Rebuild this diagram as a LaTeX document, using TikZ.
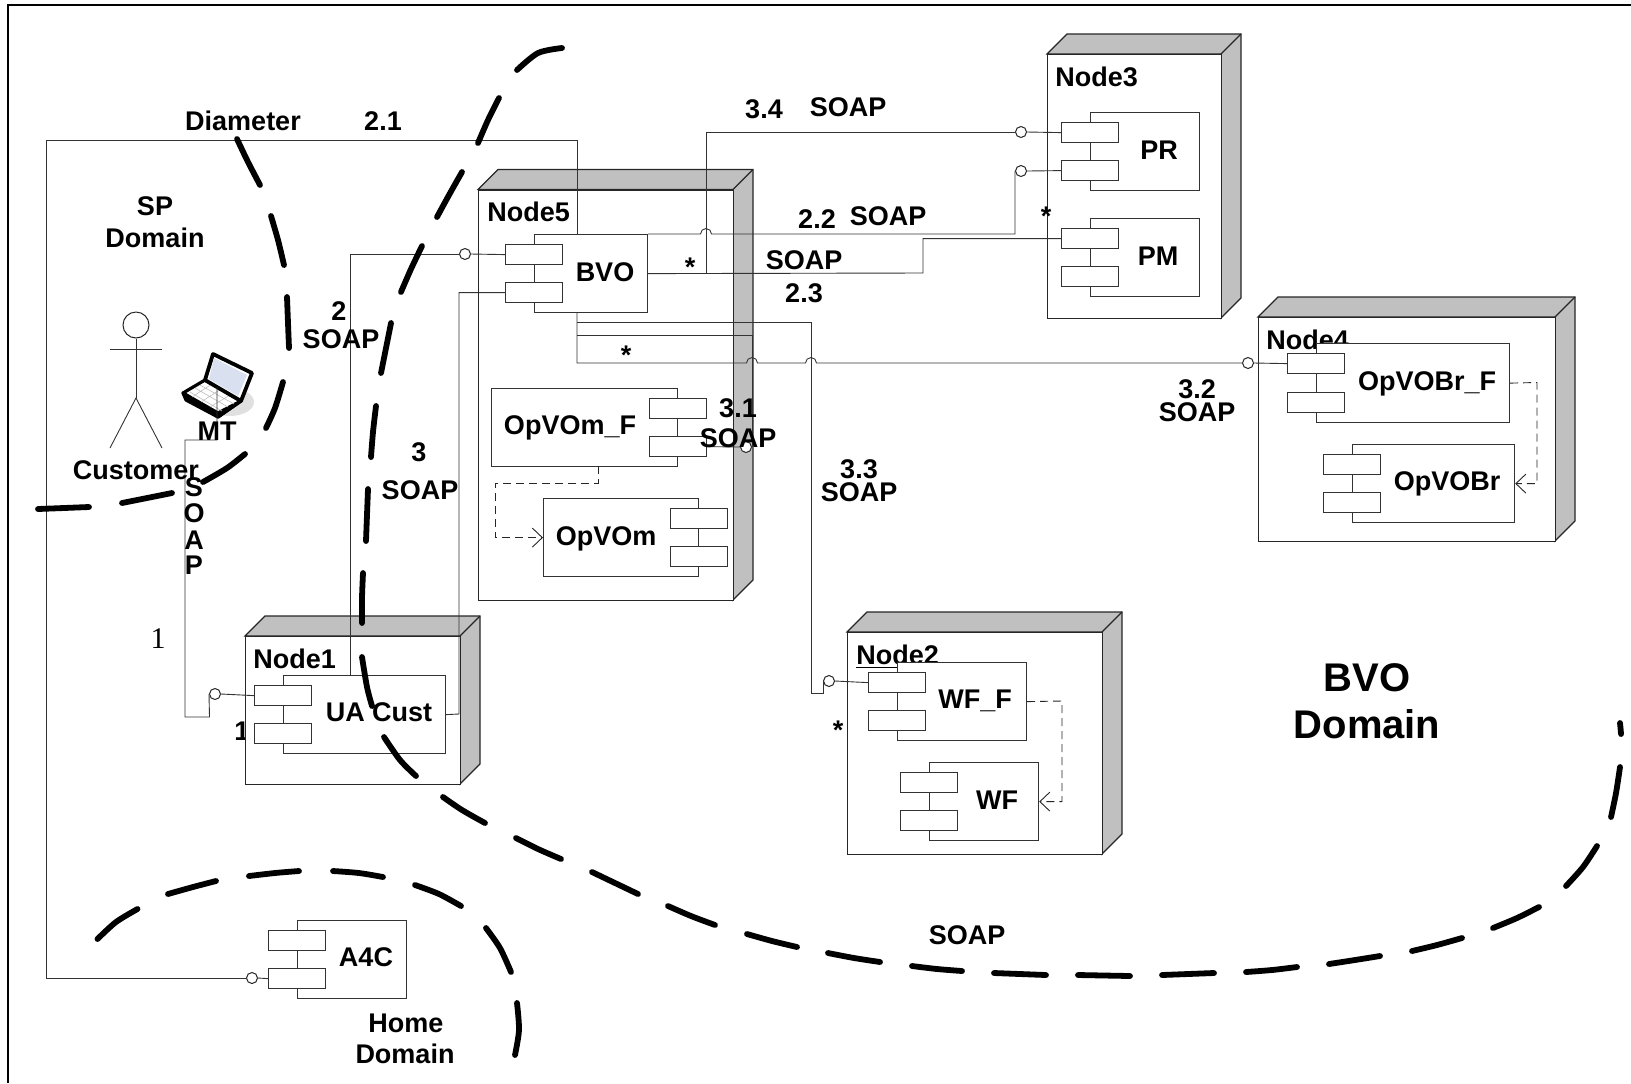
\documentclass[tikz,border=0pt]{standalone}
\usepackage{fontspec}
\setmainfont{Liberation Sans}
\newfontfamily\timesfont{Liberation Serif}
\usepackage{tikz}
\usetikzlibrary{arrows.meta}
\definecolor{depgray}{HTML}{C0C0C0}
\definecolor{lapscreen}{HTML}{D9E1F0}
\tikzset{
  lbl/.style={font=\bfseries\fontsize{13.5}{15}\selectfont,text height=9.7pt,text depth=0pt,inner sep=0pt},
  biglbl/.style={font=\bfseries\fontsize{20}{22}\selectfont,text height=14.3pt,text depth=0pt,inner sep=0pt},
  deptitle/.style={font=\bfseries\fontsize{13.5}{15}\selectfont,inner sep=0pt,anchor=base west},
  depbox/.style={draw=black!85,fill=white,line width=0.6pt,inner sep=0pt,anchor=north west},
  depside/.style={draw=black!85,fill=depgray,line width=0.6pt},
  compbody/.style={draw=black!80,fill=white,line width=0.6pt,inner sep=0pt,anchor=north west},
  comptab/.style={draw=black!80,fill=white,line width=0.6pt,inner sep=0pt,minimum width=28.5pt,minimum height=10pt},
  lolli/.style={circle,draw=black!85,fill=white,line width=0.5pt,inner sep=0pt,minimum size=5.5pt},
  wire/.style={draw=black!80,line width=0.45pt},
  depwire/.style={draw=black!85,line width=0.45pt,dash pattern=on 4pt off 2.5pt,->,>={Straight Barb[length=5pt,width=9.5pt]}},
  domline/.style={line width=2.9pt,line cap=round},
}
\newcommand{\depnode}[7]{
  \draw[depside] (#2,#3) -- ++(20,-20) -- (#4+20,#3-20) -- (#4+20,#5-20) -- (#4,#5) -- (#4,#3) -- cycle;
  \draw[depside] (#4,#3) -- ++(20,-20);
  \node[depbox,minimum width=(#4-#2)*0.5pt,minimum height=(#5-#3)*0.5pt] (#1) at (#2,#3) {};
  \node[deptitle] (#1t) at (#2+#6,#3+32) {#7};
}
\newcommand{\comp}[9]{
  \node[compbody,minimum width=(#4-#2)*0.5pt,minimum height=(#5-#3)*0.5pt] (#1) at (#2,#3) {};
  \node[comptab,anchor=north,yshift=-5pt] (#1a) at (#1.north #6) {};
  \node[comptab,anchor=south,yshift=5pt] (#1b) at (#1.south #6) {};
  \node[lbl] (#1t) at (#7,#8) {#9};
}
\begin{document}
\begin{tikzpicture}[x=0.5pt,y=-0.5pt]
\useasboundingbox (0,0) rectangle (1631,1083);
\draw[line width=1pt] (8,1083) -- (8,5) -- (1631,5);

\node[lbl] (oneb) at (242,731) {1};
\depnode{nfive}{478}{189.5}{733}{600}{9}{Node5}
\depnode{nthree}{1047}{54}{1221}{318}{8}{Node3}
\depnode{nfour}{1258}{317}{1555}{541}{8}{Node4}
\depnode{ntwo}{847}{632}{1102}{854}{9}{\underline{Node2}}
\depnode{none}{245}{636}{460}{784}{8}{Node1}

\comp{bvo}{534}{234}{647}{312}{west}{605}{272}{BVO}
\comp{opf}{491}{388}{677}{466}{east}{570}{425}{OpVOm\_F}
\comp{opm}{543}{498}{698}{576}{east}{606}{536}{OpVOm}
\comp{pr}{1090}{112}{1199}{190}{west}{1159}{150}{PR}
\comp{pm}{1090}{218}{1199}{296}{west}{1158}{256}{PM}
\comp{brf}{1316}{343}{1509}{422}{west}{1427}{381}{OpVOBr\_F}
\comp{brm}{1352}{444}{1514}{522}{west}{1447}{481}{OpVOBr}
\comp{wff}{897}{662}{1026}{740}{west}{975}{699}{WF\_F}
\comp{wfm}{929}{762}{1038}{840}{west}{997}{800}{WF}
\comp{ua}{283}{675}{445}{753}{west}{379}{712}{UA Cust}
\comp{afc}{297}{920}{406}{998}{west}{366}{957}{A4C}

\node[circle,draw=black!85,line width=0.5pt,inner sep=0pt,minimum size=13pt] (custhead) at (136,325) {};
\coordinate (custhip) at (136,398);
\draw[wire] (custhead) -- (custhip);
\draw[wire] (110,349) -- (162,349);
\draw[wire] (110,448) -- (custhip) -- (162,448);

\fill[black!12] (230,402) ellipse [x radius=24,y radius=14];
\draw[line width=1.6pt,line join=round,fill=white] (183,393) -- (205,380) -- (241,401) -- (218,417) -- cycle;
\draw[line width=1.6pt,line join=round,fill=black] (183,393) -- (186,400) -- (218,417) -- (241,401) -- (218,413) -- cycle;
\draw[black!25,line width=0.3pt] (190,392) -- (222,411) (195,388) -- (228,407) (200,385) -- (234,404)
  (192,397) -- (212,384) (201,402) -- (221,389) (210,407) -- (230,395);
\draw[line width=1.9pt,line join=round,fill=white] (213,354) -- (252,373) -- (241,401) -- (205,380) -- cycle;
\fill[lapscreen] (214,358) -- (247,375) -- (238,396) -- (209,379) -- cycle;
\coordinate (mtpt) at (217,387);

\node[lolli] (cone) at (215,694) {};
\node[lolli] (cafc) at (252,978) {};
\node[lolli] (cbvo) at (465,254) {};
\node[lolli] (cpra) at (1021,132) {};
\node[lolli] (cprb) at (1021,171) {};
\node[lolli] (cbrf) at (1248,363) {};
\node[lolli] (cwff) at (829,681) {};
\node[lolli] (copf) at (746,447) {};
\coordinate (bvotop) at (577,234);
\coordinate (bvobot) at (577,312);
\coordinate (bvoj) at (706,273);
\coordinate (bvojb) at (577,322);
\coordinate (bvojc) at (577,335);
\coordinate (uatop) at (350,675);

\draw[wire] (mtpt) |- (185,440) |- (209.5,717) -- (cone.west);
\draw[wire] (cone.east) -- (uaa.west);
\draw[wire] (cafc.west) -| (46,140) -| (bvotop);
\draw[wire] (cafc.east) -- (afcb.west);
\draw[wire] (uatop) |- (cbvo.west);
\draw[wire] (cbvo.east) -- (bvoa.west);
\draw[wire] (ua.east) -- (459,714) |- (bvob.west);
\draw[wire] (bvo.north east) -- (700.5,234) arc[start angle=180,end angle=360,radius=5.5] -| (cprb.west);
\draw[wire] (cprb.east) -- (prb.west);
\draw[wire] (bvo.east) -- (923,273) |- (pma.west);
\draw[wire] (bvoj) |- (cpra.west);
\draw[wire] (cpra.east) -- (pra.west);
\draw[wire] (bvobot) -- (577,363) -- (746.5,363) arc[start angle=180,end angle=360,radius=5.5]
  -- (805.5,363) arc[start angle=180,end angle=360,radius=5.5] -- (cbrf.west);
\draw[wire] (cbrf.east) -- (brfa.west);
\draw[wire] (bvojb) -| (811,693) -| (cwff.west);
\draw[wire] (cwff.east) -- (wffa.west);
\draw[wire] (bvojc) -| (copf.east);
\draw[wire] (copf.west) -- (opfb.east);

\draw[depwire] (598,466) |- (495,483) |- (opm.west);
\draw[depwire] (brf.east) -- (1537,382.5) |- (brm.east);
\draw[depwire] (wff.east) -- (1062,701) |- (wfm.east);

\node[lbl] (ldiam) at (243,121) {Diameter};
\node[lbl] (ltwoone) at (383,121) {2.1};
\node[lbl] (lspa) at (155,206) {SP};
\node[lbl] (lspb) at (155,238) {Domain};
\node[lbl] (lcust) at (136,470) {Customer};
\node[lbl] (lmt) at (217,431) {MT};
\node[lbl] (lsa) at (194,487) {S};
\node[lbl] (lsb) at (194,513) {O};
\node[lbl] (lsc) at (194,540) {A};
\node[lbl] (lsd) at (194,565) {P};
\node[lbl] (ltwo) at (339,311) {2};
\node[lbl] (ltwos) at (341,339) {SOAP};
\node[lbl] (lthree) at (419,452) {3};
\node[lbl] (lthrees) at (420,490) {SOAP};
\node[font=\timesfont\fontsize{15}{17}\selectfont,inner sep=0pt] (lone) at (158,639) {1};
\node[lbl] (ltf) at (764,109) {3.4};
\node[lbl] (ltfs) at (848,107) {SOAP};
\node[lbl] (lttwo) at (817,219) {2.2};
\node[lbl] (lttwos) at (888,216) {SOAP};
\node[lbl] (lsoapb) at (804,260) {SOAP};
\node[lbl] (ltth) at (804,293) {2.3};
\node[lbl] (lstara) at (690,267) {*};
\node[lbl] (lstarb) at (626,355) {*};
\node[lbl] (lstarc) at (1046,216) {*};
\node[lbl] (lstard) at (838,730) {*};
\node[lbl] (ltho) at (738,408) {3.1};
\node[lbl] (lthos) at (738,438) {SOAP};
\node[lbl] (lthh) at (859,469) {3.3};
\node[lbl] (lthhs) at (859,492) {SOAP};
\node[lbl] (lthw) at (1197,389) {3.2};
\node[lbl] (lthws) at (1197,412) {SOAP};
\node[lbl] (lsoapc) at (967,935) {SOAP};
\node[biglbl] (lbvoa) at (1367,677) {BVO};
\node[biglbl] (lbvob) at (1367,724) {Domain};
\node[lbl] (lhomea) at (406,1023) {Home};
\node[lbl] (lhomeb) at (405,1054) {Domain};

\draw[domline] plot[smooth] coordinates {(237,139) (248,162) (260,185)}
  plot[smooth] coordinates {(271,216) (278,240) (284,265)}
  plot[smooth] coordinates {(287,297) (288,323) (289,348)}
  plot[smooth] coordinates {(283,382) (275,408) (266,428)}
  plot[smooth] coordinates {(245,454) (227,468) (203,482)}
  plot[smooth] coordinates {(172,493) (147,498) (122,503)}
  plot[smooth] coordinates {(89,507) (64,508) (38,509)};
\draw[domline] plot[smooth] coordinates {(562,48) (538,53) (517,70)}
  plot[smooth] coordinates {(499,98) (488,120) (478,143)}
  plot[smooth] coordinates {(462,172) (449,195) (437,217)}
  plot[smooth] coordinates {(422,246) (411,269) (401,292)}
  plot[smooth] coordinates {(391,323) (386,348) (381,373)}
  plot[smooth] coordinates {(376,406) (373,432) (371,457)}
  plot[smooth] coordinates {(368,489) (367,515) (366,541)}
  plot[smooth] coordinates {(363,573) (362,598) (362,623)}
  plot[smooth] coordinates {(362,657) (367,687) (372,706)}
  plot[smooth] coordinates {(384,737) (400,760) (416,776)}
  plot[smooth] coordinates {(443,797) (462,810) (485,823)}
  plot[smooth] coordinates {(516,838) (538,849) (561,859)}
  plot[smooth] coordinates {(592,872) (615,883) (638,894)}
  plot[smooth] coordinates {(668,906) (691,916) (715,925)}
  plot[smooth] coordinates {(747,934) (772,941) (797,947)}
  plot[smooth] coordinates {(828,953) (854,958) (880,962)}
  plot[smooth] coordinates {(912,966) (937,969) (962,971)}
  plot[smooth] coordinates {(994,973) (1020,974) (1046,975)}
  plot[smooth] coordinates {(1078,975) (1104,975.5) (1130,976)}
  plot[smooth] coordinates {(1162,975) (1188,974) (1214,973)}
  plot[smooth] coordinates {(1246,972) (1272,970) (1297,967)}
  plot[smooth] coordinates {(1329,964) (1355,960) (1380,956)}
  plot[smooth] coordinates {(1412,951) (1437,945) (1462,938)}
  plot[smooth] coordinates {(1493,928) (1517,918) (1539,907)}
  plot[smooth] coordinates {(1566,886) (1583,867) (1597,846)}
  plot[smooth] coordinates {(1611,817) (1616,793) (1620,767)}
  plot[smooth] coordinates {(1620,723) (1620.5,728) (1621,734)};
\draw[domline] plot[smooth] coordinates {(97.5,939) (116,922) (137.5,909)}
  plot[smooth] coordinates {(168,894) (193,887) (216,881)}
  plot[smooth] coordinates {(249,876) (275,873) (299,871)}
  plot[smooth] coordinates {(333,871) (359,873) (383,877)}
  plot[smooth] coordinates {(415,885) (439,894) (461,906)}
  plot[smooth] coordinates {(486,928) (500,948) (511,972)}
  plot[smooth] coordinates {(517,1003) (519,1030) (515,1055)};
\end{tikzpicture}
\end{document}
